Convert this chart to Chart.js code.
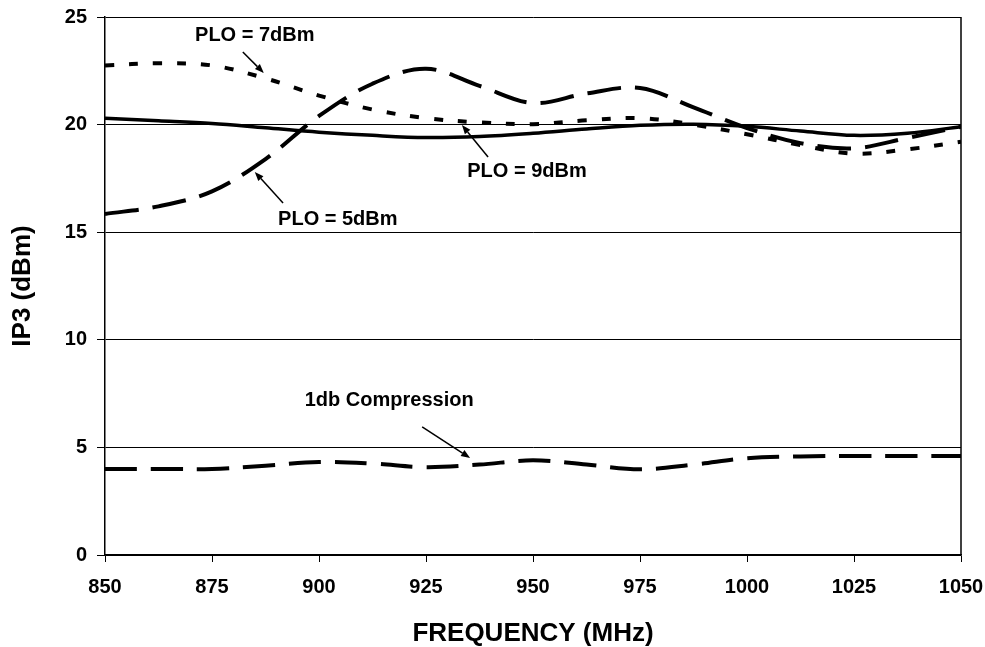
<!DOCTYPE html>
<html>
<head>
<meta charset="utf-8">
<script src="https://cdn.jsdelivr.net/npm/chart.js@4"></script>
<style>
  html, body { margin: 0; padding: 0; background: #fff; }
  #wrap { width: 985px; height: 647px; }
</style>
</head>
<body>
<div id="wrap"><canvas id="c" width="985" height="647"></canvas></div>
<script>
// ---- data ----
const freqs = [850, 862.5, 875, 887.5, 900, 912.5, 925, 937.5, 950, 962.5, 975, 987.5, 1000, 1012.5, 1025, 1037.5, 1050];
const plo9 = [20.3, 20.18, 20.05, 19.85, 19.65, 19.5, 19.4, 19.45, 19.6, 19.8, 19.97, 20.02, 19.92, 19.7, 19.5, 19.6, 19.9];
const plo7 = [22.75, 22.85, 22.75, 22.15, 21.35, 20.7, 20.3, 20.1, 20.02, 20.2, 20.3, 20.0, 19.55, 19.05, 18.65, 18.85, 19.2];
const plo5 = [15.85, 16.2, 16.9, 18.4, 20.4, 21.9, 22.6, 21.8, 21.0, 21.45, 21.7, 20.8, 19.84, 19.14, 18.9, 19.38, 19.9];
const comp1db = [4.0, 4.0, 4.0, 4.15, 4.32, 4.25, 4.08, 4.2, 4.4, 4.2, 3.98, 4.2, 4.5, 4.58, 4.6, 4.6, 4.6];
const xTicks = [850, 875, 900, 925, 950, 975, 1000, 1025, 1050];
const yTicks = [0, 5, 10, 15, 20, 25];
const labelTexts = ['PLO = 7dBm', 'PLO = 9dBm', 'PLO = 5dBm', '1db Compression'];
const labelAt = [[885.0, 24.12], [948.6, 17.80], [904.4, 15.61], [916.4, 7.16]];
const arrowFrom = [[882.2, 23.37], [939.5, 18.49], [891.6, 16.36], [924.1, 5.95]];
const arrowTo = [[887.1, 22.40], [933.4, 19.98], [885.0, 17.80], [935.3, 4.51]];

const FONT = "'Liberation Sans', Arial, sans-serif";
const pts = arr => freqs.map((f, i) => ({x: f, y: arr[i]}));

const annot = {
  id: 'annot',
  afterDraw(chart) {
    const {ctx, chartArea: a, scales: {x, y}} = chart;
    ctx.save();
    // right border
    ctx.strokeStyle = '#000';
    ctx.lineWidth = 1.5;
    ctx.beginPath();
    ctx.moveTo(a.right, a.top);
    ctx.lineTo(a.right, a.bottom);
    ctx.stroke();
    // labels
    ctx.fillStyle = '#000';
    ctx.font = 'bold 20px ' + FONT;
    ctx.textAlign = 'center';
    ctx.textBaseline = 'middle';
    labelTexts.forEach((t, i) => {
      ctx.fillText(t, x.getPixelForValue(labelAt[i][0]), y.getPixelForValue(labelAt[i][1]));
    });
    // arrows
    ctx.lineWidth = 1.5;
    arrowFrom.forEach((p, i) => {
      const x0 = x.getPixelForValue(p[0]), y0 = y.getPixelForValue(p[1]);
      const x1 = x.getPixelForValue(arrowTo[i][0]), y1 = y.getPixelForValue(arrowTo[i][1]);
      const ang = Math.atan2(y1 - y0, x1 - x0);
      const L = 9, W = 3.5;
      const bx = x1 - L * Math.cos(ang), by = y1 - L * Math.sin(ang);
      ctx.beginPath();
      ctx.moveTo(x0, y0);
      ctx.lineTo(bx, by);
      ctx.stroke();
      ctx.beginPath();
      ctx.moveTo(x1, y1);
      ctx.lineTo(bx + W * Math.sin(ang), by - W * Math.cos(ang));
      ctx.lineTo(bx - W * Math.sin(ang), by + W * Math.cos(ang));
      ctx.closePath();
      ctx.fill();
    });
    ctx.restore();
  }
};

const common = {pointRadius: 0, fill: false, tension: 0.35, borderColor: '#000', borderCapStyle: 'butt'};

new Chart(document.getElementById('c'), {
  type: 'line',
  data: {
    datasets: [
      Object.assign({label: 'PLO = 9dBm', data: pts(plo9), borderWidth: 3.5}, common),
      Object.assign({label: 'PLO = 7dBm', data: pts(plo7), borderWidth: 4, borderDash: [9, 15]}, common),
      Object.assign({label: 'PLO = 5dBm', data: pts(plo5), borderWidth: 4, borderDash: [34, 14]}, common),
      Object.assign({label: '1db Compression', data: pts(comp1db), borderWidth: 4, borderDash: [32, 14]}, common)
    ]
  },
  options: {
    responsive: false,
    animation: false,
    devicePixelRatio: 1,
    layout: {padding: {top: 17, right: 24, bottom: 0, left: 0}},
    plugins: {legend: {display: false}, tooltip: {enabled: false}},
    scales: {
      x: {
        type: 'linear', min: 850, max: 1050,
        afterBuildTicks: s => { s.ticks = xTicks.map(v => ({value: v})); },
        afterFit: s => { s.height = 92; s.paddingLeft = 0; s.paddingRight = 0; },
        grid: {drawOnChartArea: false, drawTicks: true, tickLength: 7, color: '#000', lineWidth: 1},
        border: {display: true, color: '#000', width: 1.5},
        ticks: {color: '#000', font: {family: FONT, size: 20, weight: 'bold'}, padding: 13, maxRotation: 0, autoSkip: false,
                callback: v => String(v)},
        title: {display: true, text: 'FREQUENCY (MHz)', color: '#000', font: {family: FONT, size: 26, weight: 'bold', lineHeight: 1}, padding: {top: 0, bottom: 0}}
      },
      y: {
        type: 'linear', min: 0, max: 25,
        afterBuildTicks: s => { s.ticks = yTicks.map(v => ({value: v})); },
        afterFit: s => { s.width = 105; s.paddingTop = 0; s.paddingBottom = 0; },
        grid: {drawOnChartArea: true, drawTicks: true, tickLength: 8, color: '#000', lineWidth: 1},
        border: {display: true, color: '#000', width: 1.5},
        ticks: {color: '#000', font: {family: FONT, size: 20, weight: 'bold'}, padding: 10, callback: v => String(v)},
        title: {display: true, text: 'IP3 (dBm)', color: '#000', font: {family: FONT, size: 26, weight: 'bold', lineHeight: 1}, padding: {top: 10, bottom: 0}}
      }
    }
  },
  plugins: [annot]
});
</script>
</body>
</html>
